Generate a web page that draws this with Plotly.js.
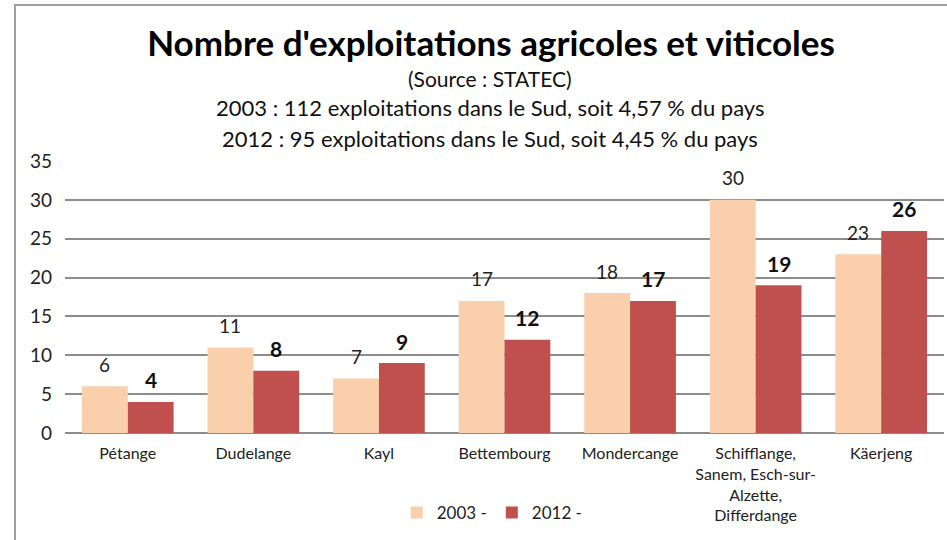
<!DOCTYPE html>
<html><head><meta charset="utf-8">
<script src="https://cdn.plot.ly/plotly-3.0.1.min.js"></script>
<style>body{margin:0;background:#fff}#frame{position:absolute;left:14px;top:4px;width:940px;height:540px;border-left:2px solid #a0a0a0;border-top:2px solid #a0a0a0;pointer-events:none}</style>
</head><body>
<div id="chart" style="width:947px;height:540px"></div>
<div id="frame"></div>
<script>
const categories = ["Pétange","Dudelange","Kayl","Bettembourg","Mondercange","Schifflange,<br>Sanem, Esch-sur-<br>Alzette,<br>Differdange","Käerjeng"];
const values2003 = [6,11,7,17,18,30,23];
const values2012 = [4,8,9,12,17,19,26];
const seriesNames = ["2003 -","2012 -"];
const titleText = "Nombre d'exploitations agricoles et viticoles";
const subLines = ["(Source : STATEC)","2003 : 112 exploitations dans le Sud, soit 4,57 % du pays","2012 : 95 exploitations dans le Sud, soit 4,45 % du pays"];
const F = "Lato, 'Open Sans', sans-serif";
const gap = 0.27, half = (1-gap)/4;
const traces = [
 {type:'bar',x:categories,y:values2003,name:seriesNames[0],marker:{color:'#FAD0AC'},hoverinfo:'none'},
 {type:'bar',x:categories,y:values2012,name:seriesNames[1],marker:{color:'#C0504D'},hoverinfo:'none'}
];
const ys=[78,107,138];
const anns = subLines.map((t,i)=>({text:t,xref:'paper',yref:'paper',x:(490-65)/879,xanchor:'center',y:1+(161-ys[i])/272,yanchor:'middle',showarrow:false,font:{family:F,size:i==0?21:22,color:'#111'}}));
values2003.forEach((v,i)=>anns.push({text:String(v),xref:'x',yref:'y',x:i-half,y:v,yanchor:'middle',yshift:22,showarrow:false,font:{family:F,size:19,color:'#222'}}));
values2012.forEach((v,i)=>anns.push({text:'<b>'+v+'</b>',xref:'x',yref:'y',x:i+half,y:v,yanchor:'middle',yshift:22,showarrow:false,font:{family:F,size:21,color:'#111'}}));
const layout = {
 width:947,height:540,margin:{l:65,r:3,t:161,b:107},
 paper_bgcolor:'#fff',plot_bgcolor:'#fff',
 barmode:'group',bargap:gap,bargroupgap:0,
 font:{family:F,color:'#222'},
 title:{text:'<b>'+titleText+'</b>',font:{family:F,size:35,color:'#000'},x:491/947,xanchor:'center',y:1-44/540,yanchor:'middle'},
 annotations: anns,
 yaxis:{range:[0,35],dtick:5,showgrid:true,gridcolor:'#8c8c8c',gridwidth:1.5,zeroline:true,zerolinecolor:'#8c8c8c',zerolinewidth:1.5,
  tickfont:{family:F,size:19,color:'#222'},ticks:'',showline:false,ticklabelstandoff:12},
 xaxis:{tickfont:{family:F,size:16,color:'#222'},showline:false,ticks:'',type:'category',ticklabelstandoff:9},
 legend:{orientation:'h',x:0.486,xanchor:'center',y:-0.228,yanchor:'top',font:{family:F,size:17,color:'#222'},traceorder:'normal',itemwidth:30}
};
Plotly.newPlot('chart',traces,layout,{displayModeBar:false});
</script></body></html>
